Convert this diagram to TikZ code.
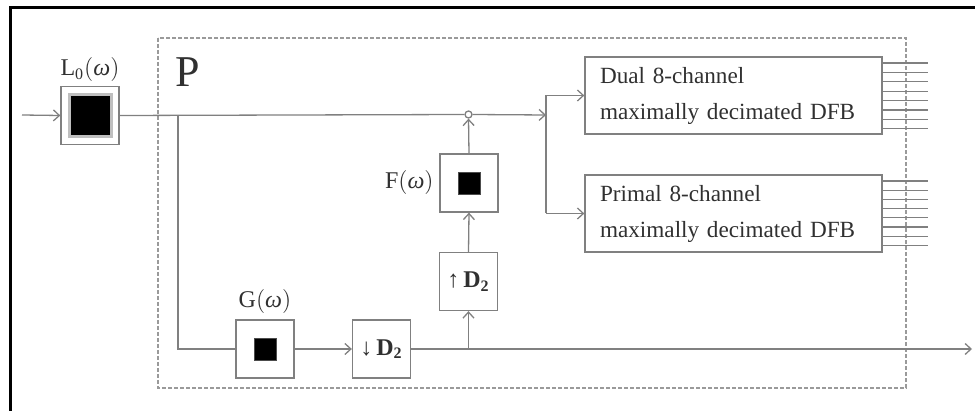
\documentclass[tikz,border=0pt]{standalone}
\usepackage{fontspec}
\setmainfont{Liberation Serif}
\usetikzlibrary{arrows.meta,positioning}
\definecolor{linegray}{HTML}{808080}
\definecolor{dashgray}{HTML}{9A9A9A}
\definecolor{textgray}{HTML}{303030}
\newcommand{\omegaarg}{$\bigl($\textit{ω}$\bigr)$}

\begin{document}
\begin{tikzpicture}[
  x=0.5pt, y=-0.5pt,
  >={Straight Barb[length=3pt,width=5.5pt]},
  wire/.style={draw=linegray, line width=0.65pt},
  block/.style={draw=linegray, line width=0.65pt, fill=white, minimum size=29pt, inner sep=0pt, text=textgray, font=\fontsize{12}{14}\selectfont},
  core/.style={fill=black, draw=black!70, line width=0.4pt, minimum size=11pt, inner sep=0pt},
  dfb/.style={draw=linegray, line width=0.65pt, minimum width=148.5pt, minimum height=38.5pt, text width=133.5pt, inner xsep=7.5pt, align=left, text=textgray, font=\fontsize{11.6}{18}\selectfont},
  tag/.style={text=textgray, font=\fontsize{12}{14}\selectfont, inner sep=0pt}
]
\useasboundingbox (0,0) rectangle (975,411);
\draw[black, line width=1.5pt] (10,411) -- (10,8) -- (975,8);
\draw[dashgray, line width=0.6pt, dash pattern=on 2pt off 1pt] (158,38) rectangle (906,388);
\node[tag, font=\fontsize{22}{24}\selectfont] (plab) at (188,72) {P};

\node[block] (l0) at (90,115.5) {};
\node[core, minimum size=21pt, draw=gray!50, line width=1.5pt] (l0core) at (l0) {};
\node[tag] (l0lab) at (90,70) {L\textsubscript{0}\omegaarg};

\node[block] (g) at (265,349) {};
\node[core] (gcore) at (g) {};
\node[tag] (glab) at (265,302) {G\omegaarg};
\node[block] (down) at (381.5,349) {↓\,\textbf{D}\textsubscript{\textbf{2}}};
\node[block] (up) at (468.5,281.5) {↑\,\textbf{D}\textsubscript{\textbf{2}}};
\node[block] (f) at (469,183) {};
\node[core] (fcore) at (f) {};
\node[tag, anchor=east] (flab) at (434,183) {F\omegaarg};

\node[circle, draw=linegray, line width=0.65pt, fill=white, minimum size=3.5pt, inner sep=0pt] (sum) at (468.5,114.5) {};
\node[dfb] (dual) at (733.5,95.5) {Dual 8-channel\\maximally decimated DFB};
\node[dfb] (primal) at (733.5,213.5) {Primal 8-channel\\maximally decimated DFB};

\coordinate (in) at (22,115);
\coordinate (tap) at (178,115);
\coordinate (split) at (546,115);
\coordinate (bot) at (468.5,349);
\coordinate (out) at (972,349);

\draw[wire, ->] (in) -- (l0.west);
\draw[wire] (l0.east) -- (sum.west);
\draw[wire, ->] (sum.east) -- (split);
\draw[wire] (split |- dual.west) -- (split |- primal.west);
\draw[wire, ->] (split |- dual.west) -- (dual.west);
\draw[wire, ->] (split |- primal.west) -- (primal.west);
\draw[wire] (tap) |- (g.west);
\draw[wire, ->] (g.east) -- (down.west);
\draw[wire, ->] (down.east) -- (out);
\draw[wire, ->] (bot) -- (up.south);
\draw[wire, ->] (up.north) -- (f.south);
\draw[wire, ->] (f.north) -- (sum.south);
\foreach \k in {0,...,7} {
  \draw[wire] ([yshift=16.25pt-\k*4.7pt]dual.east) -- ++(45,0);
  \draw[wire] ([yshift=16.25pt-\k*4.6pt]primal.east) -- ++(45,0);
}
\end{tikzpicture}
\end{document}
